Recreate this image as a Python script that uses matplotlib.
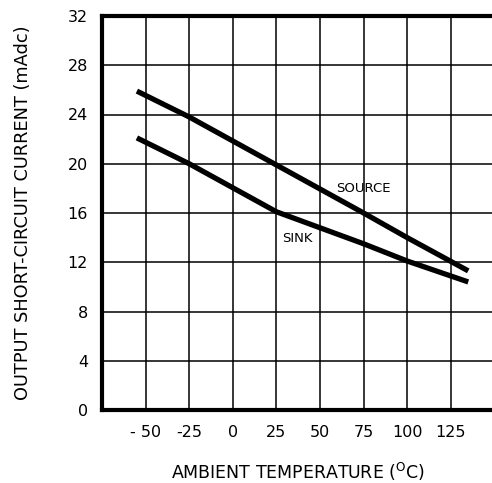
import numpy as np
import matplotlib
matplotlib.use("Agg")
import matplotlib.pyplot as plt

# values
source_temp = [-55, -25, 25, 75, 100, 135]
source_curr = [25.9, 23.8, 19.9, 16.0, 14.0, 11.3]

sink_temp = [-55, -25, 25, 75, 100, 135]
sink_curr = [22.1, 20.0, 16.1, 13.5, 12.1, 10.4]

x_ticks = [-50, -25, 0, 25, 50, 75, 100, 125]
x_tick_labels = ["- 50", "-25", "0", "25", "50", "75", "100", "125"]
y_ticks = [0, 4, 8, 12, 16, 20, 24, 28, 32]

W, H = 492, 483
fig = plt.figure(figsize=(W / 100, H / 100), dpi=100)

# axes placed in pixel terms: left spine x=102, bottom y=410, top y=16
left, bottom, top = 102, 410, 16
px_per_x = 43.6 / 25
width = 225 * px_per_x
height = bottom - top
ax = fig.add_axes([left / W, (H - bottom) / H, width / W, height / H])

ax.plot(source_temp, source_curr, color="black", lw=3.8, solid_capstyle="butt")
ax.plot(sink_temp, sink_curr, color="black", lw=3.8, solid_capstyle="butt")

ax.set_xlim(-75, 150)
ax.set_ylim(0, 32)
ax.set_xticks(x_ticks)
ax.set_xticklabels(x_tick_labels)
ax.set_yticks(y_ticks)
ax.tick_params(length=0, labelsize=11.5)
ax.tick_params(axis="x", pad=11)
ax.tick_params(axis="y", pad=10)

ax.grid(True, color="black", lw=1.1)
ax.set_axisbelow(True)
for s in ["left", "bottom", "top"]:
    ax.spines[s].set_linewidth(3)
ax.spines["right"].set_visible(False)

ax.text(75, 18.0, "SOURCE", fontsize=9.5, ha="center", va="center")
ax.text(37, 13.9, "SINK", fontsize=9.5, ha="center", va="center")

ax.set_xlabel(r"AMBIENT TEMPERATURE ($^{\rm O}$C)", fontsize=12.5, va="center")
ax.xaxis.set_label_coords(0.5, -(471.5 - bottom) / height)
ax.set_ylabel("OUTPUT SHORT-CIRCUIT CURRENT (mAdc)", fontsize=12.8, va="center")
ax.yaxis.set_label_coords(-(left - 23) / width, 0.5)

fig.savefig("out.png", dpi=100)
